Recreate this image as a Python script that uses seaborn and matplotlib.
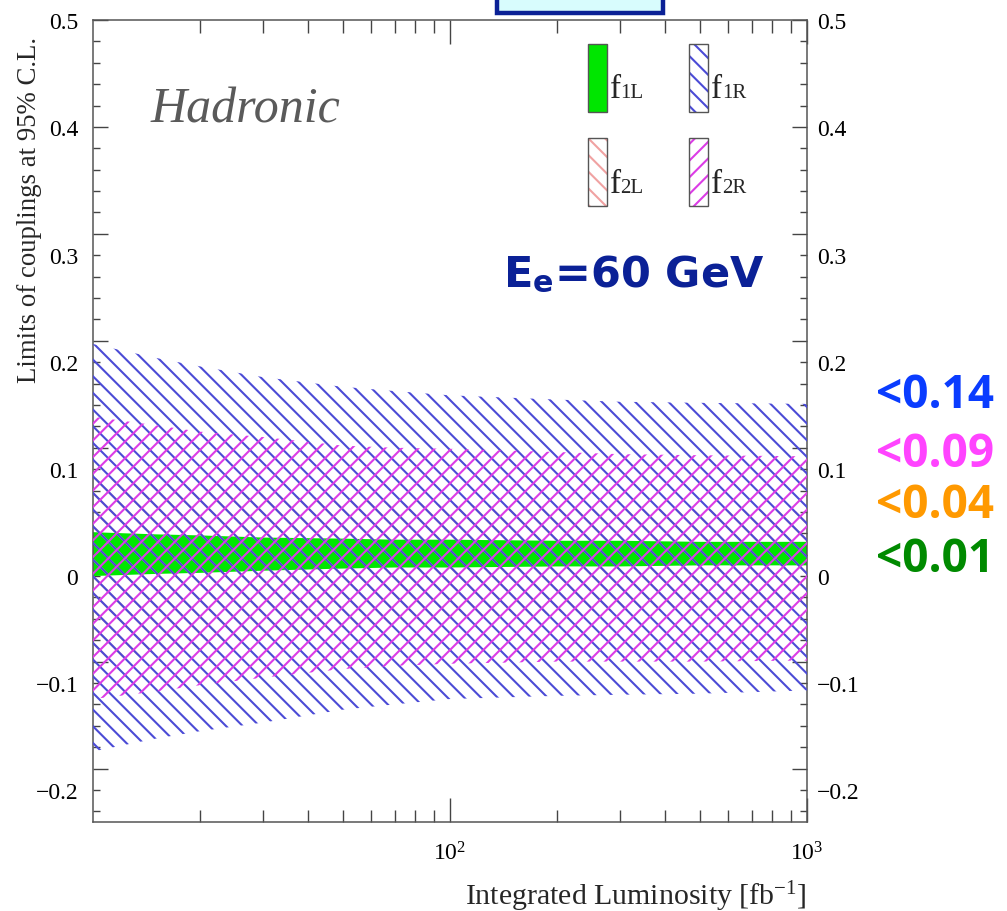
import numpy as np
import pandas as pd
import matplotlib
matplotlib.use("Agg")
import matplotlib.pyplot as plt
import matplotlib.transforms as mtransforms
from matplotlib.patches import Rectangle
from matplotlib.ticker import FixedLocator, FuncFormatter, NullFormatter
import seaborn as sns

# ---------------- data ----------------
lumi = [10, 15, 20, 30, 50, 70, 100, 200, 300, 500, 1000]

f1L_hi = [0.021, 0.019, 0.018, 0.016, 0.015, 0.014, 0.014, 0.013, 0.013, 0.012, 0.012]
f1L_lo = [-0.020, -0.018, -0.017, -0.015, -0.013, -0.012, -0.012, -0.011, -0.011, -0.010, -0.010]

f1R_hi = [0.197, 0.184, 0.176, 0.166, 0.157, 0.153, 0.149, 0.145, 0.143, 0.142, 0.141]
f1R_lo = [-0.184, -0.172, -0.165, -0.157, -0.145, -0.140, -0.135, -0.132, -0.131, -0.130, -0.127]

f2L_hi = [0.072, 0.066, 0.062, 0.057, 0.052, 0.049, 0.047, 0.044, 0.043, 0.042, 0.041]
f2L_lo = [-0.100, -0.092, -0.086, -0.078, -0.069, -0.064, -0.060, -0.055, -0.052, -0.050, -0.048]

f2R_hi = [0.129, 0.121, 0.115, 0.110, 0.102, 0.100, 0.099, 0.096, 0.094, 0.093, 0.092]
f2R_lo = [-0.135, -0.128, -0.122, -0.115, -0.107, -0.104, -0.102, -0.100, -0.100, -0.100, -0.099]

band_labels = [("f", "1L"), ("f", "1R"), ("f", "2L"), ("f", "2R")]
limit_texts = ["<0.14", "<0.09", "<0.04", "<0.01"]
limit_colors = ["#0a3cff", "#ff44ff", "#ff9900", "#008a00"]

y_major = [-0.2, -0.1, 0.0, 0.1, 0.2, 0.3, 0.4, 0.5]
y_minor = list(np.round(np.arange(-0.24, 0.5, 0.02), 2))
x_major = [100, 1000]
x_minor = [20, 30, 40, 50, 60, 70, 80, 90, 200, 300, 400, 500, 600, 700, 800, 900]

title_text = "Hadronic"
energy_text = r"E$_\mathregular{e}$=60 GeV"
ylabel_text = "Limits of couplings at 95% C.L."
xlabel_text = r"Integrated Luminosity [fb$\mathregular{^{-1}}$]"

BLUE = "#4b4bd6"
SALMON = "#f0a2a2"
MAGENTA = "#dc3ce6"
GREEN = "#00e600"

# ---------------- style ----------------
sns.set_theme(style="ticks")
plt.rcParams["font.family"] = ["Liberation Serif", "DejaVu Serif"]
plt.rcParams["mathtext.fontset"] = "custom"
plt.rcParams["mathtext.rm"] = "Liberation Serif"
plt.rcParams["mathtext.it"] = "Liberation Serif:italic"
plt.rcParams["mathtext.bf"] = "Liberation Serif:bold"
plt.rcParams["hatch.linewidth"] = 1.5
plt.rcParams["axes.unicode_minus"] = True

fig = plt.figure(figsize=(10.07, 9.12), dpi=100)
ax = fig.add_axes([93 / 1007, 89 / 912, 714 / 1007, 802 / 912])

df = pd.DataFrame({"lumi": lumi,
                   "f1L_hi": f1L_hi, "f1L_lo": f1L_lo,
                   "f1R_hi": f1R_hi, "f1R_lo": f1R_lo,
                   "f2L_hi": f2L_hi, "f2L_lo": f2L_lo,
                   "f2R_hi": f2R_hi, "f2R_lo": f2R_lo})

# invisible seaborn edge lines (registers data on the axes)
long = df.melt(id_vars="lumi", var_name="edge", value_name="limit")
sns.lineplot(data=long, x="lumi", y="limit", units="edge", estimator=None,
             linewidth=0, legend=False, ax=ax)

# bands
ax.fill_between(df["lumi"], df["f1L_lo"], df["f1L_hi"], facecolor=GREEN,
                edgecolor="none", linewidth=0, zorder=1)
ax.fill_between(df["lumi"], df["f2L_lo"], df["f2L_hi"], facecolor="none",
                edgecolor=SALMON, hatch="\\\\", linewidth=0, zorder=2)
ax.fill_between(df["lumi"], df["f1R_lo"], df["f1R_hi"], facecolor="none",
                edgecolor=BLUE, hatch="\\\\", linewidth=0, zorder=3)
ax.fill_between(df["lumi"], df["f2R_lo"], df["f2R_hi"], facecolor="none",
                edgecolor=MAGENTA, hatch="//", linewidth=0, zorder=4)

# axes
ax.set_xscale("log")
ax.set_xlim(10, 1000)
ax.set_ylim(-0.25, 0.5)
ax.xaxis.set_major_locator(FixedLocator(x_major))
ax.xaxis.set_minor_locator(FixedLocator(x_minor))
ax.xaxis.set_major_formatter(FuncFormatter(
    lambda v, p: r"$\mathdefault{10^{%d}}$" % int(round(np.log10(v)))))
ax.xaxis.set_minor_formatter(NullFormatter())
ax.yaxis.set_major_locator(FixedLocator(y_major))
ax.yaxis.set_minor_locator(FixedLocator(y_minor))
ax.yaxis.set_major_formatter(FuncFormatter(
    lambda v, p: ("%g" % round(v, 2)).replace("-", "\u2212") if abs(v) > 1e-9 else "0"))

for s in ax.spines.values():
    s.set_color("#555555")
    s.set_linewidth(1.1)

ax.tick_params(axis="both", which="both", direction="in", colors="#444444",
               labelcolor="black", labelsize=17, width=1.0)
ax.tick_params(axis="x", which="both", top=True, bottom=True, labeltop=False, pad=14)
ax.tick_params(axis="x", which="major", length=17)
ax.tick_params(axis="x", which="minor", length=9)
ax.tick_params(axis="y", which="both", left=True, right=True,
               labelleft=True, labelright=True, pad=7)
ax.tick_params(axis="y", which="major", length=11)
ax.tick_params(axis="y", which="minor", length=5)

ax.set_xlabel(xlabel_text, fontsize=21.5, ha="right", va="baseline")
ax.xaxis.set_label_coords(1.0, -0.102)
ax.set_ylabel(ylabel_text, fontsize=19.3, ha="right")
ax.yaxis.set_label_coords(-0.072, 0.98)

# texts inside plot
ax.text(0.08, 0.873, title_text, transform=ax.transAxes, style="italic",
        fontsize=36, color="#5a5a5a", va="baseline")
ax.text(0.574, 0.668, energy_text, transform=ax.transAxes, family="DejaVu Sans",
        weight="bold", fontsize=31, color="#0b2196", va="baseline")

# legend boxes
leg_styles = [
    dict(fc=GREEN, hatch=None, hc=None),
    dict(fc="none", hatch="\\\\", hc=BLUE),
    dict(fc="none", hatch="\\\\", hc=SALMON),
    dict(fc="none", hatch="//", hc=MAGENTA),
]
box_x = [0.693, 0.835, 0.693, 0.835]
box_y = [0.885, 0.885, 0.768, 0.768]
lab_x = [0.724, 0.866, 0.724, 0.866]
lab_y = [0.904, 0.904, 0.7855, 0.7855]
for i, st in enumerate(leg_styles):
    if st["hatch"]:
        ax.add_patch(Rectangle((box_x[i], box_y[i]), 0.027, 0.085, transform=ax.transAxes,
                               facecolor="none", edgecolor=st["hc"], hatch=st["hatch"],
                               linewidth=0, zorder=5))
        ax.add_patch(Rectangle((box_x[i], box_y[i]), 0.027, 0.085, transform=ax.transAxes,
                               facecolor="none", edgecolor="#555555", linewidth=1.0, zorder=6))
    else:
        ax.add_patch(Rectangle((box_x[i], box_y[i]), 0.027, 0.085, transform=ax.transAxes,
                               facecolor=st["fc"], edgecolor="#555555", linewidth=1.0, zorder=6))
    big, small = band_labels[i]
    ax.text(lab_x[i], lab_y[i], big, transform=ax.transAxes, fontsize=24, va="baseline")
    ax.annotate(small, xy=(lab_x[i], lab_y[i]), xycoords="axes fraction",
                xytext=(7.5, 0), textcoords="offset points", fontsize=15, va="baseline")

# right side limit annotations
lim_y = [408, 467, 518, 572]
for t, c, yy in zip(limit_texts, limit_colors, lim_y):
    fig.text(876 / 1007, 1 - yy / 912, t, color=c, fontsize=33, weight="bold",
             family=["Open Sans", "DejaVu Sans"], va="baseline", ha="left")

# top framed box (partially visible)
fig.patches.append(Rectangle((497 / 1007, 1 - 14 / 912), 166 / 1007, 0.05,
                             transform=fig.transFigure, facecolor="#d8fcfd",
                             edgecolor="#0b2196", linewidth=3.2, zorder=10))

# tick labels appear one minor step below their ticks for values <= 0.3
fig.canvas.draw()
off = mtransforms.ScaledTranslation(0, -0.21, fig.dpi_scale_trans)
off_left = mtransforms.ScaledTranslation(-0.05, 0, fig.dpi_scale_trans)
for tick in ax.yaxis.get_major_ticks():
    loc = tick.get_loc()
    t1 = tick.label1.get_transform() + off_left
    t2 = tick.label2.get_transform()
    if loc is not None and loc <= 0.3 + 1e-9:
        t1 = t1 + off
        t2 = t2 + off
    tick.label1.set_transform(t1)
    tick.label2.set_transform(t2)

fig.savefig("out.png", dpi=100)
